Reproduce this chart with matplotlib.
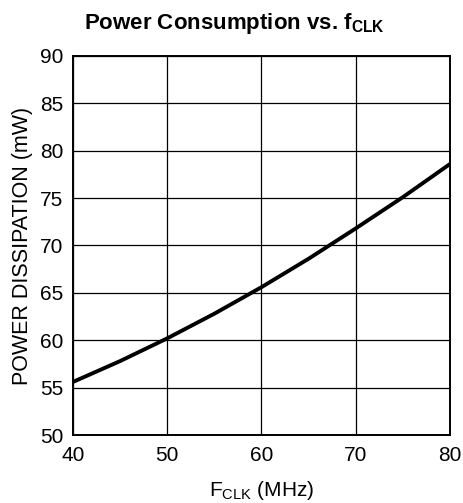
import matplotlib
matplotlib.use("Agg")
import matplotlib.pyplot as plt

plt.rcParams['font.family'] = ['Liberation Sans', 'DejaVu Sans']
plt.rcParams['mathtext.fontset'] = 'custom'
plt.rcParams['mathtext.rm'] = 'Liberation Sans'
plt.rcParams['mathtext.bf'] = 'Liberation Sans:bold'

# values
freqMHz = [40, 45, 50, 55, 60, 65, 70, 75, 80]
powerMw = [55.6, 57.8, 60.2, 62.8, 65.6, 68.6, 71.8, 75.1, 78.6]
xTicks = [40, 50, 60, 70, 80]
yTicks = [50, 55, 60, 65, 70, 75, 80, 85, 90]

fig = plt.figure(figsize=(4.64, 5.03), dpi=100)
ax = fig.add_axes([0.157, 0.135, 0.813, 0.754])

ax.plot(freqMHz, powerMw, color='black', linewidth=2.8, solid_capstyle='butt')
ax.set_xlim(40, 80)
ax.set_ylim(50, 90)
ax.set_xticks(xTicks)
ax.set_yticks(yTicks)
ax.grid(True, color='black', linewidth=0.9)
ax.tick_params(length=0, labelsize=15)
ax.tick_params(axis='y', pad=7)
ax.tick_params(axis='x', pad=8)
for spine in ax.spines.values():
    spine.set_linewidth(1.4)

ax.set_xlabel(r'F$_{\mathrm{CLK}}$ (MHz)', fontsize=15, labelpad=10)
ax.set_ylabel('POWER DISSIPATION (mW)', fontsize=15.5, labelpad=5)
fig.suptitle(r'Power Consumption vs. f$_{\mathbf{CLK}}$', fontsize=16, fontweight='bold', x=0.505, y=0.978)

fig.savefig('out.png', dpi=100)
